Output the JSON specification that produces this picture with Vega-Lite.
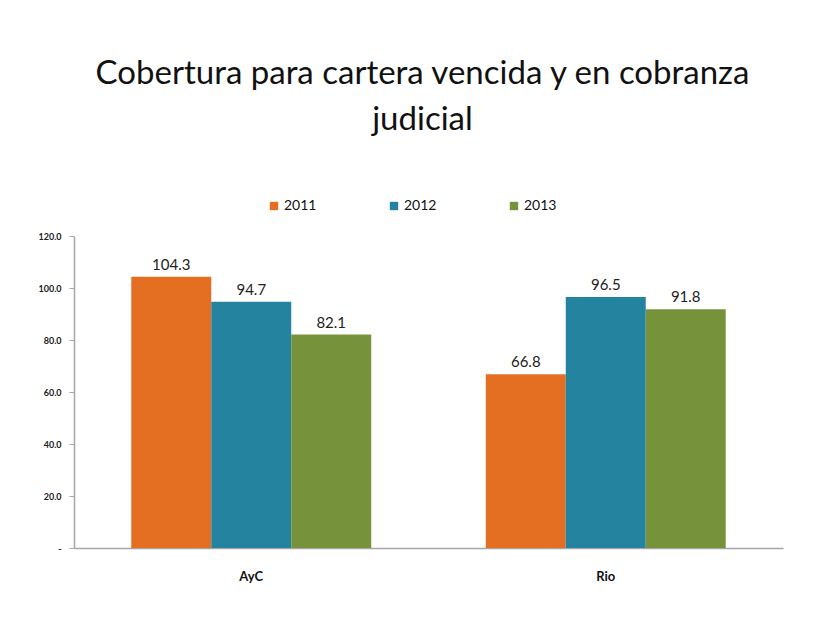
{
  "$schema": "https://vega.github.io/schema/vega-lite/v6.json",
  "width": 709,
  "height": 312,
  "autosize": {"type": "none"},
  "padding": {"left": 74, "top": 236, "right": 32, "bottom": 77},
  "background": "#ffffff",
  "config": {"view": {"stroke": null}},
  "title": {
    "text": ["Cobertura para cartera vencida y en cobranza", "judicial"],
    "font": "Lato",
    "fontSize": 33,
    "fontWeight": "normal",
    "color": "#111111",
    "lineHeight": 46,
    "anchor": "middle",
    "dx": -6,
    "offset": 62
  },
  "data": {
    "values": [
      {"region": "AyC", "year": "2011", "value": 104.3},
      {"region": "AyC", "year": "2012", "value": 94.7},
      {"region": "AyC", "year": "2013", "value": 82.1},
      {"region": "Rio", "year": "2011", "value": 66.8},
      {"region": "Rio", "year": "2012", "value": 96.5},
      {"region": "Rio", "year": "2013", "value": 91.8}
    ]
  },
  "encoding": {
    "x": {
      "field": "region",
      "type": "nominal",
      "scale": {"paddingInner": 0, "paddingOuter": 0},
      "axis": {
        "title": null,
        "labelAngle": 0,
        "ticks": false,
        "domainColor": "#a6a6a6",
        "domainWidth": 1.5,
        "labelFont": "Lato",
        "labelFontSize": 13,
        "labelFontWeight": "bold",
        "labelColor": "#111111",
        "labelPadding": 22
      }
    },
    "xOffset": {
      "field": "year",
      "type": "nominal",
      "scale": {"paddingInner": 0, "paddingOuter": 0.716}
    },
    "y": {
      "field": "value",
      "type": "quantitative",
      "scale": {"domain": [0, 120], "nice": false},
      "axis": {
        "title": null,
        "values": [0, 20, 40, 60, 80, 100, 120],
        "labelExpr": "datum.value == 0 ? '-' : format(datum.value, '.1f')",
        "grid": false,
        "domainColor": "#a6a6a6",
        "domainWidth": 1.5,
        "tickColor": "#a6a6a6",
        "tickSize": 5,
        "labelFont": "Lato",
        "labelFontSize": 9,
        "labelFontWeight": "bold",
        "labelColor": "#222222",
        "labelPadding": 8
      }
    }
  },
  "layer": [
    {
      "mark": {"type": "bar"},
      "encoding": {
        "color": {
          "field": "year",
          "type": "nominal",
          "scale": {"domain": ["2011", "2012", "2013"], "range": ["#E46F22", "#24839F", "#76933C"]},
          "legend": {
            "title": null,
            "orient": "none",
            "direction": "horizontal",
            "legendX": 193,
            "legendY": -37,
            "symbolType": "square",
            "symbolSize": 70,
            "symbolStrokeWidth": 0,
            "labelFont": "Lato",
            "labelFontSize": 14,
            "labelColor": "#111111",
            "columnPadding": 70,
            "labelOffset": 3
          }
        }
      }
    },
    {
      "mark": {"type": "text", "dy": -12, "font": "Lato", "fontSize": 15, "color": "#222222"},
      "encoding": {
        "text": {"field": "value", "type": "quantitative", "format": ".1f"}
      }
    }
  ]
}
